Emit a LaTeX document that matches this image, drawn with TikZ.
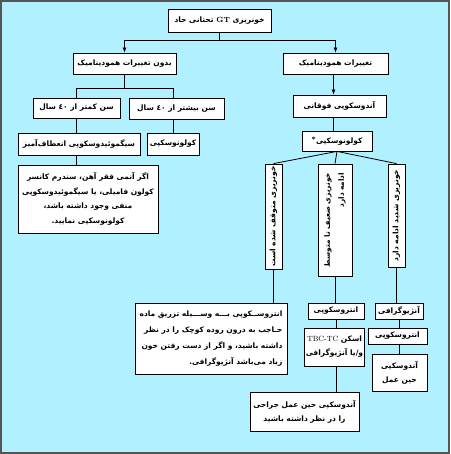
\documentclass[tikz,border=0pt]{standalone}
\usepackage{fontspec}
\usetikzlibrary{arrows.meta}
\TeXXeTstate=1
\newfontfamily\arabicfont[Script=Arabic]{DejaVu Sans}
\newcommand{\faR}[1]{\beginR #1\endR}
\newcommand{\pn}[1]{\hbox{#1}}
\definecolor{bgc}{RGB}{176,240,255}
\definecolor{framec}{RGB}{85,85,85}
\begin{document}
\begin{tikzpicture}[x=1pt,y=-1pt,
  box/.style={draw=black, fill=white, line width=0.8pt, inner sep=1pt, align=center,
    font=\fontsize{7.5}{12}\selectfont\arabicfont\bfseries},
  link/.style={draw=black, line width=0.8pt},
  arr/.style={link, -{Latex[length=5pt,width=4pt]}}]
\useasboundingbox (0,0) rectangle (450,454);
\fill[bgc] (0,0) rectangle (450,454);
\draw[framec, line width=2.2pt] (1.1,1.1) rectangle (448.9,452.9);

% top level
\node[box, minimum width=103, minimum height=23] (top) at (219.5,20.5) {\faR{خونریزی {\normalfont\bfseries GT} تحتانی حاد}};
\node[box, minimum width=103, minimum height=21] (nodyn) at (124.5,63.5) {\faR{بدون تغییرات همودینامیک}};
\node[box, minimum width=105, minimum height=21] (dyn) at (335.5,63.5) {\faR{تغییرات همودینامیک}};
\coordinate (j1) at (219.5,40);

% left branch
\node[box, minimum width=87, minimum height=20] (under) at (76.5,108) {\faR{سن کمتر از ٤٠ سال}};
\node[box, minimum width=95, minimum height=21] (over) at (176.5,108.5) {\faR{سن بیشتر از ٤٠ سال}};
\coordinate (j2) at (124.5,88);
\node[box, minimum width=122, minimum height=22] (sigmo) at (79,144) {\faR{سیگموئیدوسکوپی انعطاف‌آمیز}};
\node[box, minimum width=52, minimum height=22] (colo1) at (173,144) {\faR{کولونوسکپی}};
\node[box, minimum width=140, minimum height=68, font=\fontsize{7.5}{14.5}\selectfont\arabicfont\bfseries] (note1) at (88,199)
  {\faR{اگر آنمی فقر آهن\pn{،} سندرم کانسر}\\\faR{کولون فامیلی\pn{،} یا سیگموئیدوسکوپی}\\\faR{منفی وجود داشته باشد\pn{،}}\\\faR{کولونوسکپی نمایید\pn{.}}};

% right branch
\node[box, minimum width=93, minimum height=22] (upper) at (339.5,106) {\faR{آندوسکوپی فوقانی}};
\node[box, minimum width=70, minimum height=20] (colo2) at (337,141) {\raisebox{1.5pt}{\normalfont\bfseries *}\faR{کولونوسکپی}};
\node[box, rotate=90, minimum width=105, minimum height=17] (stop) at (273.5,216.5) {\faR{خونریزی متوقف شده است}};
\node[box, rotate=90, minimum width=112, minimum height=34, align=right, font=\fontsize{7.3}{14}\selectfont\arabicfont\bfseries] (mid) at (335,220) {\faR{خونریزی ضعیف تا متوسط}\\\faR{ادامه دارد}};
\node[box, rotate=90, minimum width=103, minimum height=17] (severe) at (396.5,215.5) {\faR{خونریزی شدید ادامه دارد}};

\node[box, minimum width=152, minimum height=71, align=right, font=\fontsize{7.5}{16}\selectfont\arabicfont\bfseries] (note2) at (211,338.5)
  {\faR{انتروســکوپی بـــه وســـیله تزریق ماده}\\\faR{حـاجب به درون روده کوچک را در نظر}\\\faR{داشته باشید\pn{،} و اگر از دست رفتن خون}\\\faR{زیاد می‌باشد آنژیوگرافی\pn{.}}};
\node[box, minimum width=56, minimum height=16] (ent1) at (336,311) {\faR{انتروسکوپی}};
\node[box, minimum width=51, minimum height=38, font=\fontsize{7.5}{14}\selectfont\arabicfont\bfseries] (scan) at (334.5,347) {\faR{اسکن {\normalfont TBC-TC}}\\\faR{و/یا آنژیوگرافی}};
\node[box, minimum width=109, minimum height=39, font=\fontsize{7.5}{14}\selectfont\arabicfont\bfseries] (surg) at (304.5,411.5) {\faR{آندوسکپی حین عمل جراحی}\\\faR{را در نظر داشته باشید}};
\node[box, minimum width=48, minimum height=16] (angio) at (399,311) {\faR{آنژیوگرافی}};
\node[box, minimum width=59, minimum height=16] (ent2) at (397.5,336) {\faR{انتروسکوپی}};
\node[box, minimum width=55, minimum height=37, font=\fontsize{7.5}{14}\selectfont\arabicfont\bfseries] (intra) at (399.5,372.5) {\faR{آندوسکپی}\\\faR{حین عمل}};

% connectors
\draw[link] (top) -- (j1);
\draw[arr] (j1) -| (nodyn);
\draw[arr] (j1) -| (dyn);
\draw[link] (nodyn) -- (j2);
\draw[link] (j2) -| (under);
\draw[link] (j2) -| (colo1 |- over.north);
\draw[link] (under) -- (under |- sigmo.north);
\draw[link] (colo1 |- over.south) -- (colo1);
\draw[link] (under |- sigmo.south) -- (under |- note1.north);
\draw[arr] (dyn.south -| 333.5,0) -- (upper.north -| 333.5,0);
\draw[link] (upper.south -| 333.5,0) -- (colo2.north -| 333.5,0);
\draw[link] (colo2.south) -- (stop.east);
\draw[link] (colo2.south) -- (mid.east);
\draw[link] (colo2.south) -- (severe.east);
\draw[link] (stop) -- (stop |- note2.north);
\draw[link] (mid) -- (mid |- ent1.north);
\draw[link] (ent1) -- (ent1 |- scan.north);
\draw[link] (ent1 |- scan.south) -- (ent1 |- surg.north);
\draw[link] (severe) -- (severe |- angio.north);
\draw[link] (angio) -- (angio |- ent2.north);
\draw[link] (angio |- ent2.south) -- (angio |- intra.north);
\end{tikzpicture}
\end{document}
